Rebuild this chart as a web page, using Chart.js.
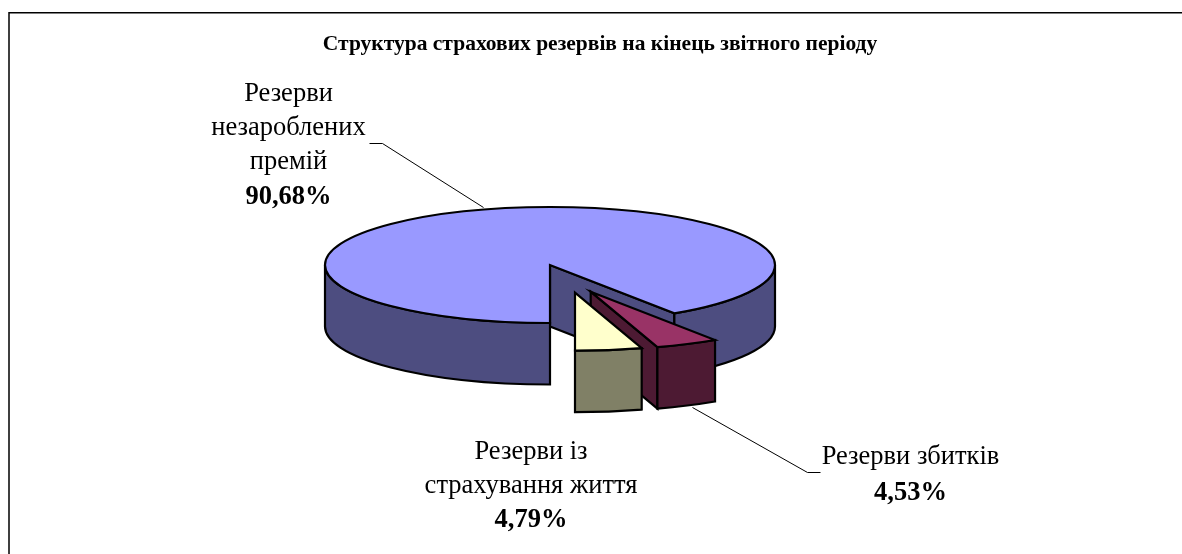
<!DOCTYPE html>
<html>
<head>
<meta charset="utf-8">
<style>
    html, body { margin: 0; padding: 0; background: #fff; }
    canvas { display: block; }
</style>
<script src="https://cdn.jsdelivr.net/npm/chart.js@4"></script>
</head>
<body>
<canvas id="myChart" width="1182" height="554"></canvas>
<script>
const chartTitle = "Структура страхових резервів на кінець звітного періоду"
const categories = ["Резерви незароблених премій", "Резерви збитків", "Резерви із страхування життя"]
const values = [90.68, 4.53, 4.79]

const topColors = ["#9999ff", "#993366", "#ffffcc"]
const wallColors = ["#4d4d80", "#4d1a33", "#808066"]

// How far each slice is pulled out of the pie, in pixels
const sliceShift = [[0, 0], [40.7, 26.7], [25, 27.7]]
const tilt = 58 / 225 // ellipse height / width
const depth = 61.5

// Label blocks: centre x and baseline of each line
const labelLayout = [
    { lines: ["Резерви", "незароблених", "премій"], x: 288.5, ys: [101, 135, 169, 204] },
    { lines: ["Резерви збитків"], x: 910.5, ys: [464, 500] },
    { lines: ["Резерви із", "страхування життя"], x: 531, ys: [459, 493, 527] },
]
const leaders = [
    [[369, 143], [382, 143], [483, 207]],
    [[692, 407], [807, 472], [820, 472]],
]

function facePath(ctx, cx, cy, r, a) {
    const x = cx + Math.cos(a) * r
    const y = cy + Math.sin(a) * r * tilt
    ctx.beginPath()
    ctx.moveTo(cx, cy)
    ctx.lineTo(x, y)
    ctx.lineTo(x, y + depth)
    ctx.lineTo(cx, cy + depth)
    ctx.closePath()
}

function paint(ctx, color) {
    ctx.fillStyle = color
    ctx.fill()
    ctx.stroke()
}

// Draws the flat arcs that Chart.js computed as a tilted, extruded pie
const pie3d = {
    id: "pie3d",
    beforeDatasetDraw(chart, args) {
        const ctx = chart.ctx
        ctx.save()
        ctx.strokeStyle = "#000"
        ctx.lineWidth = 2.2
        ctx.lineJoin = "miter"

        args.meta.data.forEach((arc, i) => {
            const cx = arc.x + sliceShift[i][0]
            const cy = arc.y + sliceShift[i][1]
            const r = arc.outerRadius
            const ry = r * tilt
            const s = arc.startAngle
            const e = arc.endAngle

            // Cut faces turned towards the viewer
            if (Math.cos(s) < -1e-6) {
                facePath(ctx, cx, cy, r, s)
                paint(ctx, wallColors[i])
            }
            if (Math.cos(e) > 1e-6) {
                facePath(ctx, cx, cy, r, e)
                paint(ctx, wallColors[i])
            }

            // Outer wall, only the part on the front half
            for (let k = -1; k <= 2; k++) {
                const a0 = Math.max(s, 2 * k * Math.PI)
                const a1 = Math.min(e, 2 * k * Math.PI + Math.PI)
                if (a1 <= a0) continue
                ctx.beginPath()
                ctx.ellipse(cx, cy, r, ry, 0, a0, a1)
                ctx.ellipse(cx, cy + depth, r, ry, 0, a1, a0, true)
                ctx.closePath()
                paint(ctx, wallColors[i])
            }

            // Top
            ctx.beginPath()
            ctx.moveTo(cx, cy)
            ctx.ellipse(cx, cy, r, ry, 0, s, e)
            ctx.closePath()
            paint(ctx, topColors[i])
        })
        ctx.restore()
        return false // the flat arcs themselves are not drawn
    },
    afterDraw(chart) {
        const ctx = chart.ctx
        ctx.save()

        // Frame: only top and left edges are visible
        ctx.strokeStyle = "#000"
        ctx.lineWidth = 1.5
        ctx.beginPath()
        ctx.moveTo(1182, 12.75)
        ctx.lineTo(9, 12.75)
        ctx.lineTo(9, 554)
        ctx.stroke()

        ctx.lineWidth = 1
        leaders.forEach((pts) => {
            ctx.beginPath()
            pts.forEach((p, i) => (i ? ctx.lineTo(p[0] + 0.5, p[1] + 0.5) : ctx.moveTo(p[0] + 0.5, p[1] + 0.5)))
            ctx.stroke()
        })

        ctx.fillStyle = "#000"
        ctx.textAlign = "center"
        ctx.textBaseline = "alphabetic"
        ctx.font = "bold 21.5px 'Liberation Serif'"
        ctx.fillText(chartTitle, 600, 50)

        labelLayout.forEach((label, i) => {
            ctx.font = "26.5px 'Liberation Serif'"
            label.lines.forEach((line, j) => ctx.fillText(line, label.x, label.ys[j]))
            ctx.font = "bold 26.5px 'Liberation Serif'"
            const pct = values[i].toFixed(2).replace(".", ",") + "%"
            ctx.fillText(pct, label.x, label.ys[label.lines.length])
        })
        ctx.restore()
    },
}

const myChart = new Chart(document.getElementById("myChart").getContext("2d"), {
    type: "pie",
    data: {
        labels: categories,
        datasets: [
            {
                data: values,
                backgroundColor: topColors,
                borderWidth: 0,
            },
        ],
    },
    options: {
        responsive: false,
        animation: false,
        rotation: 180, // first slice starts at 6 o'clock
        radius: 225,
        layout: { padding: { right: 82, bottom: 24 } },
        plugins: {
            legend: { display: false },
            tooltip: { enabled: false },
        },
    },
    plugins: [pie3d],
})
</script>
</body>
</html>
